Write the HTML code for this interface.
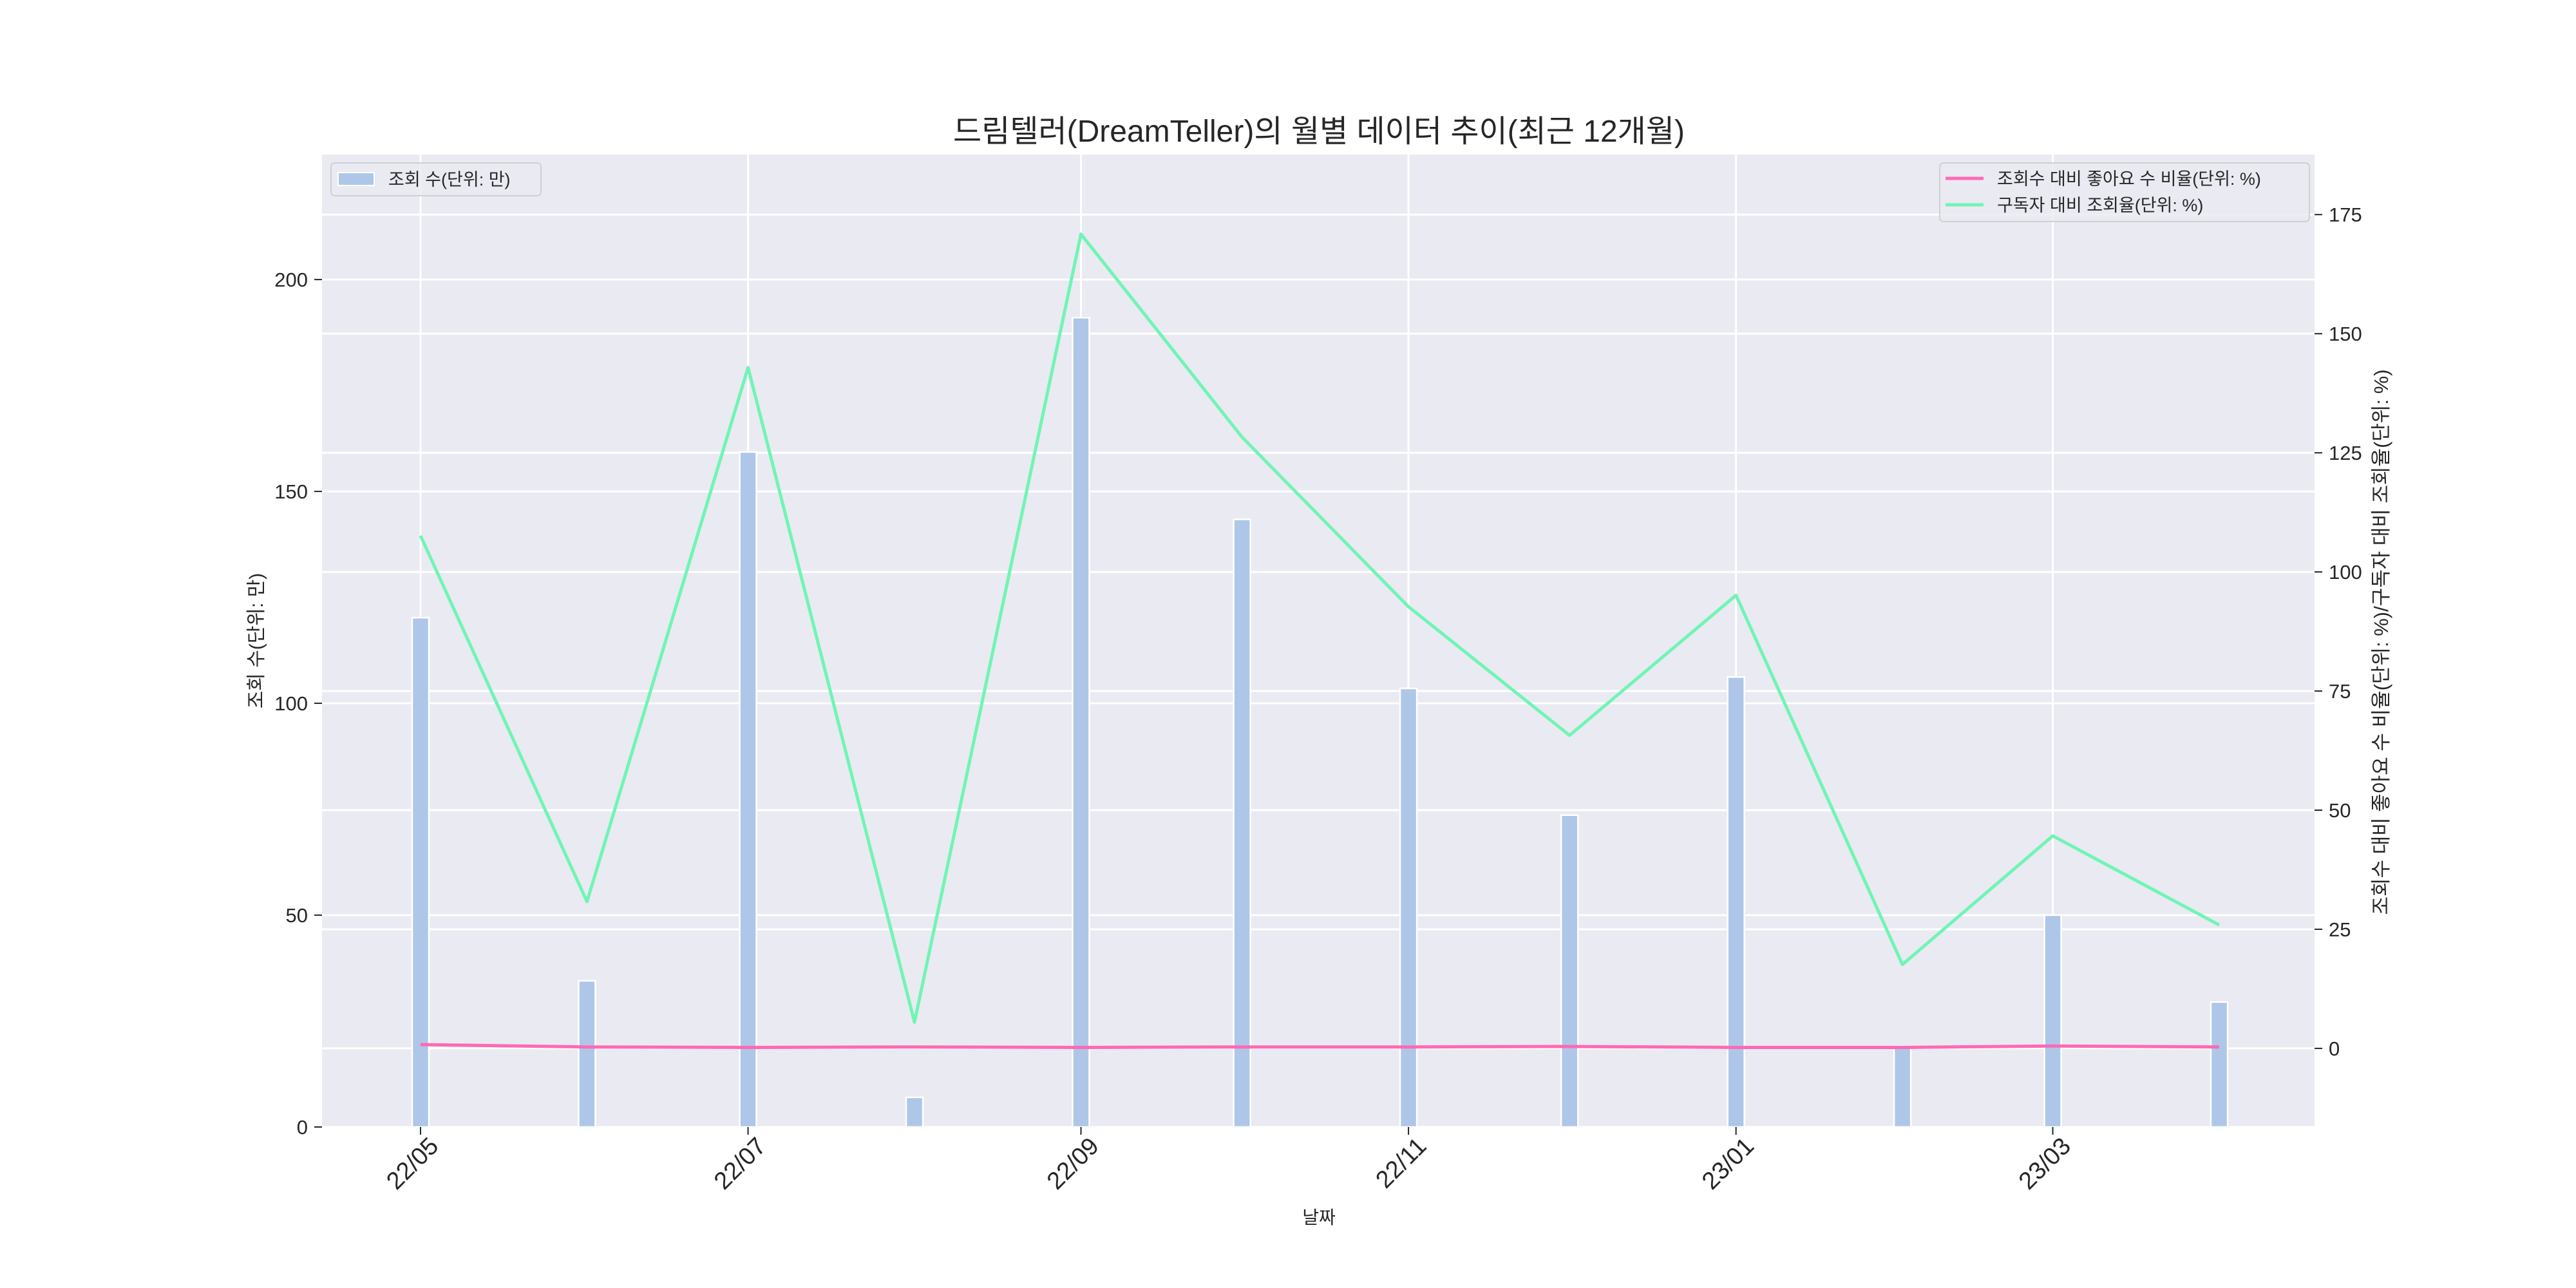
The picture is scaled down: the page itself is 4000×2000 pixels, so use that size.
<!DOCTYPE html>
<html><head><meta charset="utf-8"><style>
body{margin:0;background:#fff}
svg{display:block;font-family:"Liberation Sans","Noto Sans CJK KR",sans-serif}
</style></head><body>
<svg id="chart" width="4000" height="2000" viewBox="0 0 4000 2000">
<rect x="0" y="0" width="4000" height="2000" fill="#fff"/>
<rect x="500" y="240" width="3094" height="1510" fill="#eaeaf2"/>
<g id="grid"></g><g id="bars"></g><g id="lines"></g><g id="axes"></g>
<text x="2048" y="220" font-size="48" text-anchor="middle" fill="#262626">드림텔러(DreamTeller)의 월별 데이터 추이(최근 12개월)</text>
<text x="2048" y="1900" font-size="28" text-anchor="middle" fill="#262626">날짜</text>
<text transform="translate(408,995) rotate(-90)" font-size="30" text-anchor="middle" fill="#262626">조회 수(단위: 만)</text>
<text transform="translate(3708,997) rotate(-90)" font-size="31" text-anchor="middle" fill="#262626">조회수 대비 좋아요 수 비율(단위: %)/구독자 대비 조회율(단위: %)</text>
<g>
<rect x="514" y="253" width="326" height="51" rx="6" fill="#eaeaf2" fill-opacity="0.8" stroke="#d0d0d0" stroke-width="2"/>
<rect x="525" y="268" width="56" height="20" fill="#aec7e8" stroke="#fff" stroke-width="2"/>
<text x="603" y="288" font-size="27" fill="#262626">조회 수(단위: 만)</text>
</g>
<g>
<rect x="3012" y="253" width="574" height="91" rx="6" fill="#eaeaf2" fill-opacity="0.8" stroke="#d0d0d0" stroke-width="2"/>
<line x1="3021" y1="277" x2="3080" y2="277" stroke="#ff69b4" stroke-width="5"/>
<text x="3101" y="287" font-size="27" fill="#262626">조회수 대비 좋아요 수 비율(단위: %)</text>
<line x1="3021" y1="318" x2="3080" y2="318" stroke="#70f5b5" stroke-width="5"/>
<text x="3101" y="328" font-size="27" fill="#262626">구독자 대비 조회율(단위: %)</text>
</g>
</svg>
<script>
const months = ["22/05","22/06","22/07","22/08","22/09","22/10","22/11","22/12","23/01","23/02","23/03","23/04"];
const dayOffsets = [0,31,61,92,123,153,184,214,245,276,304,335];
const views = [120.2,34.5,159.3,7,191,143.4,103.5,73.6,106.2,19,50,29.5];
const viewRate = [107.6,30.8,142.9,5.5,170.9,128.3,92.7,65.7,95.1,17.6,44.6,25.9];
const likeRatio = [0.8,0.3,0.2,0.3,0.2,0.3,0.3,0.4,0.2,0.2,0.5,0.3];
const leftTicks = [0,50,100,150,200];
const rightTicks = [0,25,50,75,100,125,150,175];
const xTickIdx = [0,2,4,6,8,10];

const NS="http://www.w3.org/2000/svg";
const L=500,R=3594,T=240,B=1750;
const x=i=>653+dayOffsets[i]*(3446-653)/335;
const yL=v=>B-(v-0)/(229.5)*(B-T);
const yR=v=>B-(v+16.5)/(187.6+16.5)*(B-T);
function mk(tag,attrs,parent){const e=document.createElementNS(NS,tag);for(const k in attrs)e.setAttribute(k,attrs[k]);document.getElementById(parent).appendChild(e);return e;}

leftTicks.forEach(v=>{
  const g=mk('line',{x1:L,x2:R,y1:yL(v),y2:yL(v),stroke:'#fff','stroke-width':3},'grid');
  
  
  mk('line',{x1:L-12,x2:L,y1:yL(v),y2:yL(v),stroke:'#262626','stroke-width':2},'axes');
  const t=mk('text',{x:L-22,y:yL(v)+11,'font-size':31,'text-anchor':'end',fill:'#262626'},'axes');
  t.textContent=v;
  
  
});
rightTicks.forEach(v=>{
  const g=mk('line',{x1:L,x2:R,y1:yR(v),y2:yR(v),stroke:'#fff','stroke-width':3},'grid');
  
  
  mk('line',{x1:R,x2:R+12,y1:yR(v),y2:yR(v),stroke:'#262626','stroke-width':2},'axes');
  const t=mk('text',{x:R+22,y:yR(v)+11,'font-size':31,fill:'#262626'},'axes');
  t.textContent=v;
  
  
});
xTickIdx.forEach(i=>{
  const g=mk('line',{x1:x(i),x2:x(i),y1:T,y2:B,stroke:'#fff','stroke-width':3},'grid');
  
  
  mk('line',{x1:x(i),x2:x(i),y1:B,y2:B+12,stroke:'#262626','stroke-width':2},'axes');
  const t=mk('text',{transform:`translate(${x(i)+30},${B+32}) rotate(-45)`,'font-size':38,'text-anchor':'end',fill:'#262626'},'axes');
  t.textContent=months[i];
  
  
});
views.forEach((v,i)=>{
  const b=mk('rect',{x:x(i)-13,y:yL(v),width:26,height:B-yL(v),fill:'#aec7e8',stroke:'#fff','stroke-width':2.5},'bars');
  
  
});
const p1=mk('polyline',{points:likeRatio.map((v,i)=>x(i)+','+yR(v)).join(' '),fill:'none',stroke:'#ff69b4','stroke-width':5},'lines');


const p2=mk('polyline',{points:viewRate.map((v,i)=>x(i)+','+yR(v)).join(' '),fill:'none',stroke:'#70f5b5','stroke-width':5,'stroke-linejoin':'round'},'lines');


</script>
</body></html>
